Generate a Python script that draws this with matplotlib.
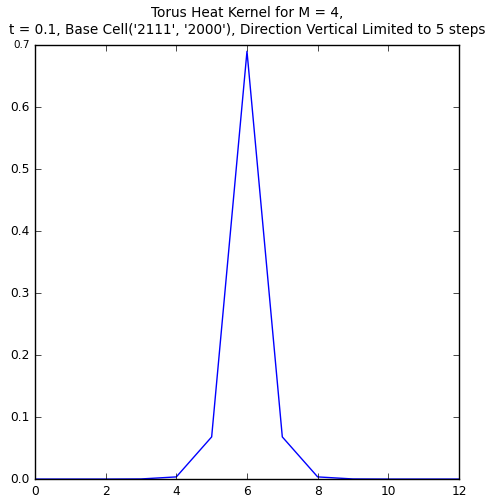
import matplotlib
matplotlib.use("Agg")
import matplotlib.pyplot as plt

plt.style.use("classic")

steps = [0, 1, 2, 3, 4, 5, 6, 7, 8, 9, 10, 11, 12]
kernel = [0.0, 0.0, 0.0, 0.0002, 0.0035, 0.068, 0.69, 0.068, 0.0035, 0.0002, 0.0, 0.0, 0.0]

fig = plt.figure(figsize=(4.9, 4.98), dpi=100)
ax = fig.add_axes([0.0714, 0.038, 0.8653, 0.8715])
ax.plot(steps, kernel, color="blue", linewidth=1)
ax.set_xlim(0, 12)
ax.set_ylim(0, 0.7)
ax.tick_params(labelsize=8.8)
ax.set_title("Torus Heat Kernel for M = 4,\nt = 0.1, Base Cell('2111', '2000'), Direction Vertical Limited to 5 steps",
             fontsize=9.85, linespacing=1.3, pad=8)

# the top y label is drawn a bit smaller under the title in the original
fig.canvas.draw()
ax.get_yticklabels()[-1].set_fontsize(7.5)

fig.savefig("out.png", dpi=100, facecolor="white")
